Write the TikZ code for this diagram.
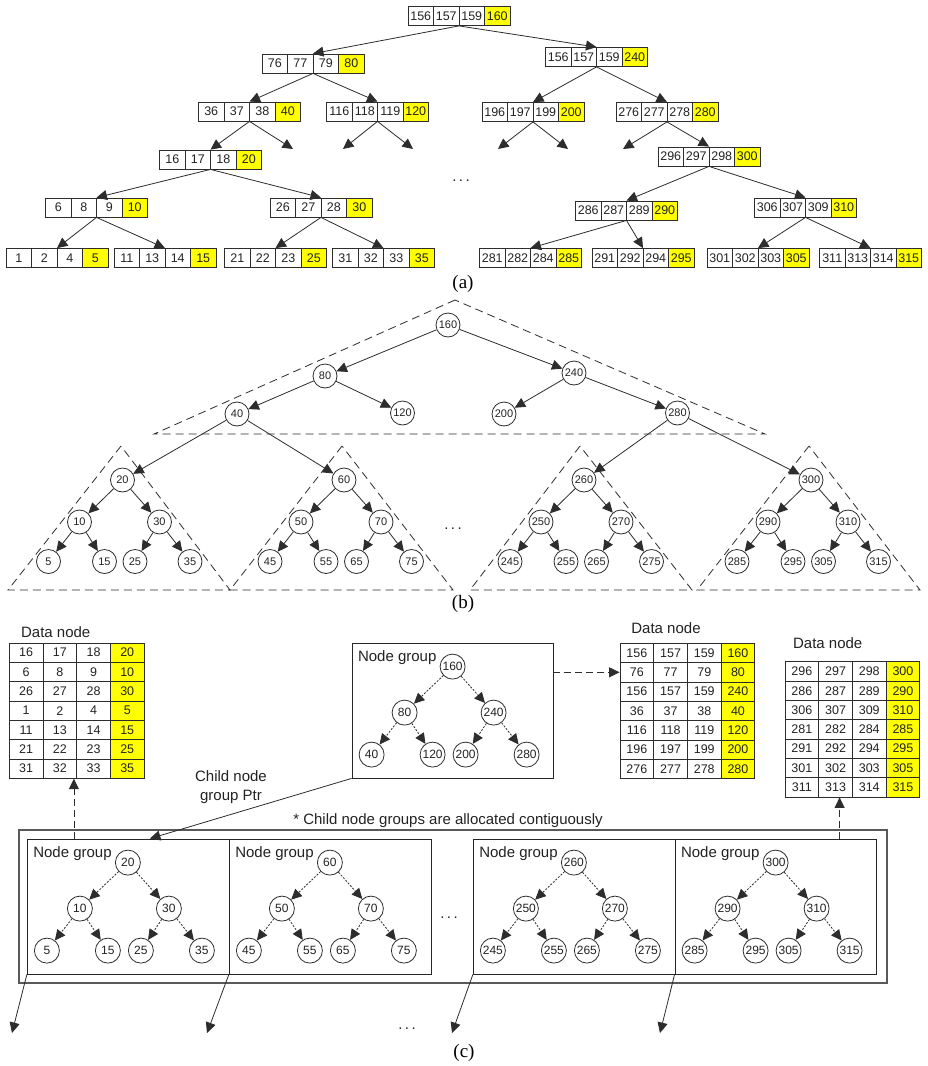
\documentclass[tikz,border=0pt]{standalone}
\usepackage{fontspec}
\setmainfont{Liberation Sans}
\newfontfamily\capfont{Liberation Serif}
\usetikzlibrary{arrows.meta,calc}
\definecolor{ylw}{RGB}{255,255,0}
\definecolor{ln}{RGB}{45,45,45}
\definecolor{tx}{RGB}{35,35,35}
\tikzset{
 cellbox/.style={draw=ln, minimum width=25.5pt, minimum height=19pt, inner sep=0pt, font=\fontsize{12.5}{14}\selectfont, text=tx},
 recbox/.style={minimum width=102pt, minimum height=19pt, inner sep=0pt},
 arr/.style={draw=ln, -{Triangle[length=10.5pt,width=10pt]}},
 darr/.style={arr, dash pattern=on 2pt off 1.5pt},
 dasharr/.style={arr, dash pattern=on 7pt off 4pt},
 bcirc/.style={circle, draw=ln, minimum size=24pt, inner sep=0pt, font=\fontsize{11}{12}\selectfont, text=tx},
 ccirc/.style={circle, draw=ln, minimum size=25pt, inner sep=0pt, font=\fontsize{12}{14}\selectfont, text=tx},
 tri/.style={draw=ln, dash pattern=on 8pt off 5pt},
 tcell/.style={draw=ln, minimum width=33.7pt, minimum height=19.33pt, inner sep=0pt, font=\fontsize{12.5}{14}\selectfont, text=tx},
 lbl/.style={font=\fontsize{15}{19}\selectfont, text=tx, inner sep=0pt},
 capt/.style={font=\capfont\fontsize{19}{22}\selectfont, inner sep=0pt},
 ngbox/.style={draw=black!85, minimum height=135pt, inner sep=0pt},
}
\newcommand\arec[7]{%
 \node[recbox] (#1) at (#2,#3) {};
 \node[cellbox] (#1-1) at ([xshift=-38.25pt]#1.center) {#4};
 \node[cellbox] (#1-2) at ([xshift=-12.75pt]#1.center) {#5};
 \node[cellbox] (#1-3) at ([xshift=12.75pt]#1.center) {#6};
 \node[cellbox,fill=ylw] (#1-4) at ([xshift=38.25pt]#1.center) {#7};
}
\newcommand\dtable[4]{%
 \node[minimum width=134.8pt, minimum height=135.3pt, inner sep=0pt] (#1) at (#2+67.4,#3+67.65) {};
 \foreach \a/\b/\c/\d [count=\i] in {#4} {
  \node[tcell] (#1-\i-1) at (#2+16.85, #3+19.33*\i-9.665) {\a};
  \node[tcell] (#1-\i-2) at (#2+50.55, #3+19.33*\i-9.665) {\b};
  \node[tcell] (#1-\i-3) at (#2+84.25, #3+19.33*\i-9.665) {\c};
  \node[tcell,fill=ylw] (#1-\i-4) at (#2+117.95, #3+19.33*\i-9.665) {\d};
 }
}
\newcommand\btree[8]{%
 \node[bcirc] (b#2) at (#1,480) {#2};
 \node[bcirc] (b#3) at (#1-43,522) {#3};
 \node[bcirc] (b#4) at (#1+37,522) {#4};
 \node[bcirc] (b#5) at (#1-74,561.5) {#5};
 \node[bcirc] (b#6) at (#1-18,561.5) {#6};
 \node[bcirc] (b#7) at (#1+12.5,561.5) {#7};
 \node[bcirc] (b#8) at (#1+67.5,561.5) {#8};
 \draw[arr] (b#2) -- (b#3);
 \draw[arr] (b#2) -- (b#4);
 \draw[arr] (b#3) -- (b#5);
 \draw[arr] (b#3) -- (b#6);
 \draw[arr] (b#4) -- (b#7);
 \draw[arr] (b#4) -- (b#8);
}
\newcommand\ngroup[9]{%
 \node[lbl,anchor=west] (#1lab) at ([shift={(6,15)}]#1.north west) {Node group};
 \node[ccirc] (#2#3) at ([shift={(101,24)}]#1.north west) {#3};
 \node[ccirc] (#2#4) at ([shift={(53,70)}]#1.north west) {#4};
 \node[ccirc] (#2#5) at ([shift={(142,70)}]#1.north west) {#5};
 \node[ccirc] (#2#6) at ([shift={(20,112)}]#1.north west) {#6};
 \node[ccirc] (#2#7) at ([shift={(81,112)}]#1.north west) {#7};
 \node[ccirc] (#2#8) at ([shift={(114,112)}]#1.north west) {#8};
 \node[ccirc] (#2#9) at ([shift={(175,112)}]#1.north west) {#9};
 \draw[darr] (#2#3) -- (#2#4);
 \draw[darr] (#2#3) -- (#2#5);
 \draw[darr] (#2#4) -- (#2#6);
 \draw[darr] (#2#4) -- (#2#7);
 \draw[darr] (#2#5) -- (#2#8);
 \draw[darr] (#2#5) -- (#2#9);
}
\begin{document}
\begin{tikzpicture}[x=1pt,y=-1pt,line width=0.8pt]
\useasboundingbox[fill=white] (0,0) rectangle (927,1066);
% ---------------- (a)
\arec{r160}{459}{16}{156}{157}{159}{160}
\arec{r80}{313}{63.5}{76}{77}{79}{80}
\arec{r240}{596.5}{57}{156}{157}{159}{240}
\arec{r40}{249.5}{111.5}{36}{37}{38}{40}
\arec{r120}{377.5}{111.5}{116}{118}{119}{120}
\arec{r200}{533}{112}{196}{197}{199}{200}
\arec{r280}{667}{112}{276}{277}{278}{280}
\arec{r20}{210.5}{159.5}{16}{17}{18}{20}
\arec{r300}{709}{156.5}{296}{297}{298}{300}
\arec{r10}{96.5}{207.5}{6}{8}{9}{10}
\arec{r30}{321}{207.5}{26}{27}{28}{30}
\arec{r290}{626.5}{210.5}{286}{287}{289}{290}
\arec{r310}{805.5}{207.5}{306}{307}{309}{310}
\arec{r5}{57}{258}{1}{2}{4}{5}
\arec{r15}{165}{258}{11}{13}{14}{15}
\arec{r25}{275.5}{258}{21}{22}{23}{25}
\arec{r35}{383.5}{258}{31}{32}{33}{35}
\arec{r285}{530.5}{258}{281}{282}{284}{285}
\arec{r295}{643}{258}{291}{292}{294}{295}
\arec{r305}{758}{258}{301}{302}{303}{305}
\arec{r315}{870.5}{258}{311}{313}{314}{315}
\coordinate (e40r) at (293,149);
\coordinate (e120l) at (343,149);
\coordinate (e120r) at (413,149);
\coordinate (e200l) at (498,149);
\coordinate (e200r) at (568,149);
\coordinate (e280l) at (623,149);
\foreach \p/\q in {r160/r80, r160/r240, r80/r40, r80/r120, r240/r200, r240/r280, r40/r20, r280/r300, r20/r10, r20/r30, r300/r290, r300/r310, r10/r5, r10/r15, r30/r25, r30/r35, r290/r285, r290/r295, r310/r305, r310/r315}
  \draw[arr] (\p.south) -- (\q.north);
\foreach \p/\q in {r40/e40r, r120/e120l, r120/e120r, r200/e200l, r200/e200r, r280/e280l}
  \draw[arr] (\p.south) -- (\q);
\node[lbl] (dotsa) at (461,181) {.\,.\,.};
\node[capt] (capa) at (463,284) {(a)};
% ---------------- (b)
\draw[tri] (455,300) -- (154,434) -- (765,434) -- cycle;
\draw[tri] (121,446) -- (8,590) -- (230,590) -- cycle;
\draw[tri] (342,446) -- (230,590) -- (453,590) -- cycle;
\draw[tri] (580,446) -- (470,590) -- (692,590) -- cycle;
\draw[tri] (809,446) -- (697,590) -- (920,590) -- cycle;
\node[bcirc] (b160) at (448,325) {160};
\node[bcirc] (b80) at (325,376) {80};
\node[bcirc] (b240) at (574,373) {240};
\node[bcirc] (b40) at (237,414) {40};
\node[bcirc] (b120) at (402.5,413) {120};
\node[bcirc] (b200) at (504,414) {200};
\node[bcirc] (b280) at (677.5,413) {280};
\btree{122.5}{20}{10}{30}{5}{15}{25}{35}
\btree{344}{60}{50}{70}{45}{55}{65}{75}
\btree{584}{260}{250}{270}{245}{255}{265}{275}
\btree{811}{300}{290}{310}{285}{295}{305}{315}
\foreach \p/\q in {b160/b80, b160/b240, b80/b40, b80/b120, b240/b200, b240/b280, b40/b20, b40/b60, b280/b260, b280/b300}
  \draw[arr] (\p) -- (\q);
\node[lbl] (dotsb) at (453,529) {.\,.\,.};
\node[capt] (capb) at (463,604) {(b)};
% ---------------- (c)
\node[lbl,anchor=west] (dl1) at (20.7,632) {Data node};
\node[lbl,anchor=west] (dl2) at (631,628) {Data node};
\node[lbl,anchor=west] (dl3) at (792.7,643) {Data node};
\dtable{dn1}{9.3}{643}{16/17/18/20, 6/8/9/10, 26/27/28/30, 1/2/4/5, 11/13/14/15, 21/22/23/25, 31/32/33/35}
\dtable{dn2}{620}{643.3}{156/157/159/160, 76/77/79/80, 156/157/159/240, 36/37/38/40, 116/118/119/120, 196/197/199/200, 276/277/278/280}
\dtable{dn3}{785}{661.7}{296/297/298/300, 286/287/289/290, 306/307/309/310, 281/282/284/285, 291/292/294/295, 301/302/303/305, 311/313/314/315}
\node[ngbox, minimum width=201pt] (tg) at (452.5,710.5) {};
\ngroup{tg}{c}{160}{80}{240}{40}{120}{200}{280}
\node[draw=black!65, line width=1.3pt, minimum width=868pt, minimum height=153pt, inner sep=0pt] (outer) at (453,906.5) {};
\node[ngbox, minimum width=202pt] (g1) at (128.3,906.5) {};
\node[ngbox, minimum width=201.7pt] (g2) at (330.15,906.5) {};
\node[ngbox, minimum width=201.7pt] (g3) at (574.15,906.5) {};
\node[ngbox, minimum width=201.7pt] (g4) at (775.85,906.5) {};
\ngroup{g1}{c}{20}{10}{30}{5}{15}{25}{35}
\ngroup{g2}{c}{60}{50}{70}{45}{55}{65}{75}
\ngroup{g3}{c}{260}{250}{270}{245}{255}{265}{275}
\ngroup{g4}{c}{300}{290}{310}{285}{295}{305}{315}
\node[lbl, align=center] (ptr) at (231,787) {Child node\\group Ptr};
\node[lbl] (note) at (448,821) {* Child node groups are allocated contiguously};
\draw[dasharr] (tg.east |- dn2-2-1.west) -- (dn2-2-1.west);
\coordinate (d1s) at ([xshift=47pt]g1.north west);
\draw[dasharr] (d1s) -- (d1s |- dn1.south);
\coordinate (d3s) at ([xshift=165pt]g4.north west);
\draw[dasharr] (d3s) -- (d3s |- dn3.south);
\coordinate (ptrend) at ([xshift=123pt]g1.north west);
\draw[arr] (tg.south west) -- (ptrend);
\coordinate (f1) at (12,1033);
\coordinate (f2) at (207,1033);
\coordinate (f3) at (452,1033);
\coordinate (f4) at (660,1033);
\draw[arr] (g1.south west) -- (f1);
\draw[arr] (g2.south west) -- (f2);
\draw[arr] (g3.south west) -- (f3);
\draw[arr] (g4.south west) -- (f4);
\node[lbl] (dotsc1) at (449,918) {.\,.\,.};
\node[lbl] (dotsc2) at (407,1029) {.\,.\,.};
\node[capt] (capc) at (464,1053) {(c)};
\end{tikzpicture}
\end{document}
